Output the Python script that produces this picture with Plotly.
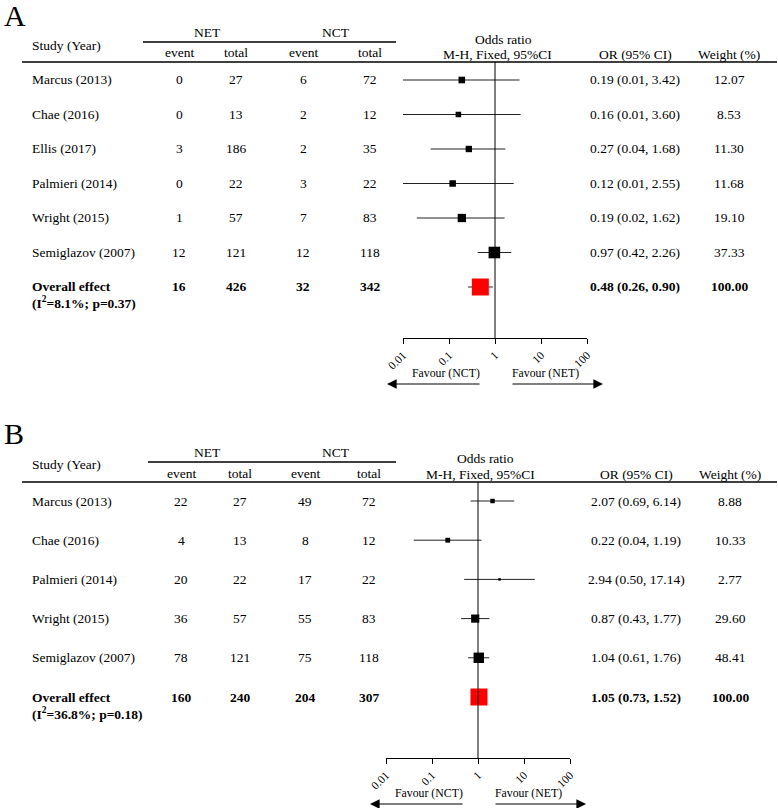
import plotly.graph_objects as go
import math

# ---------------- Data: panel A ----------------
a_studies = ["Marcus (2013)", "Chae (2016)", "Ellis (2017)", "Palmieri (2014)", "Wright (2015)", "Semiglazov (2007)"]
a_net_event = [0, 0, 3, 0, 1, 12]
a_net_total = [27, 13, 186, 22, 57, 121]
a_nct_event = [6, 2, 2, 3, 7, 12]
a_nct_total = [72, 12, 35, 22, 83, 118]
a_or = [0.19, 0.16, 0.27, 0.12, 0.19, 0.97]
a_lo = [0.01, 0.01, 0.04, 0.01, 0.02, 0.42]
a_hi = [3.42, 3.60, 1.68, 2.55, 1.62, 2.26]
a_weight = [12.07, 8.53, 11.30, 11.68, 19.10, 37.33]
a_overall_counts = [16, 426, 32, 342]
a_overall_or = [0.48, 0.26, 0.90]
a_overall_weight = 100.00
a_het = "(I<sup>2</sup>=8.1%; p=0.37)"

# ---------------- Data: panel B ----------------
b_studies = ["Marcus (2013)", "Chae (2016)", "Palmieri (2014)", "Wright (2015)", "Semiglazov (2007)"]
b_net_event = [22, 4, 20, 36, 78]
b_net_total = [27, 13, 22, 57, 121]
b_nct_event = [49, 8, 17, 55, 75]
b_nct_total = [72, 12, 22, 83, 118]
b_or = [2.07, 0.22, 2.94, 0.87, 1.04]
b_lo = [0.69, 0.04, 0.50, 0.43, 0.61]
b_hi = [6.14, 1.19, 17.14, 1.77, 1.76]
b_weight = [8.88, 10.33, 2.77, 29.60, 48.41]
b_overall_counts = [160, 240, 204, 307]
b_overall_or = [1.05, 0.73, 1.52]
b_overall_weight = 100.00
b_het = "(I<sup>2</sup>=36.8%; p=0.18)"

tick_vals = [0.01, 0.1, 1, 10, 100]
tick_text = ["0.01", "0.1", "1", "10", "100"]

W, H = 778, 808
FONT = "Liberation Serif"
FS = 13.5


def px(x):
    return x / W


def py(y):
    return 1 - y / H


fig = go.Figure()
ann = []
shapes = []


def panel(letter, studies, ne, nt, ce, ct, ors, los, his, wts, oc, oor, ow, het,
          xa, ya, x0, x1, top, bottom, row1, spacing, k, letter_y,
          col_net, col_nct, col_or, col_w, line_left):
    n = len(studies)
    rows = list(range(1, n + 2))
    xref = "x" if xa == "xaxis" else "x2"
    yref = "y" if ya == "yaxis" else "y2"
    rtop = 1 - (row1 - top) / spacing
    rbot = 1 + (bottom - row1) / spacing
    fig.layout[xa] = dict(type="log", range=[-2, 2], domain=[px(x0), px(x1)],
                          anchor=yref, showgrid=False, zeroline=False, automargin=False,
                          showline=True, linecolor="black", linewidth=1,
                          ticks="outside", ticklen=5, tickcolor="black", tickwidth=1,
                          tickvals=tick_vals, ticktext=tick_text, tickangle=-45,
                          tickfont=dict(family=FONT, size=11.5, color="black"))
    fig.layout[ya] = dict(range=[rbot, rtop], domain=[py(bottom), py(top)],
                          anchor=xref, visible=False, automargin=False)
    sizes = [k * math.sqrt(w) for w in wts]
    fig.add_trace(go.Scatter(
        x=ors, y=rows[:n], mode="markers", xaxis=xref, yaxis=yref,
        marker=dict(symbol="square", size=sizes, color="black", opacity=1, line=dict(width=0)),
        error_x=dict(type="data", symmetric=False,
                     array=[h - o for h, o in zip(his, ors)],
                     arrayminus=[o - l for o, l in zip(ors, los)],
                     color="#222", thickness=1, width=0),
        hoverinfo="skip"))
    fig.add_trace(go.Scatter(
        x=[oor[0]], y=[rows[n]], mode="markers", xaxis=xref, yaxis=yref,
        marker=dict(symbol="square", size=17, color="#ff0000", opacity=1, line=dict(width=0)),
        error_x=dict(type="data", symmetric=False, array=[oor[2] - oor[0]],
                     arrayminus=[oor[0] - oor[1]], color="#222", thickness=1, width=0),
        hoverinfo="skip"))
    shapes.append(dict(type="line", xref=xref, x0=1, x1=1, yref=yref + " domain",
                       y0=0, y1=1, line=dict(color="black", width=1)))

    def t(x, y, text, bold=False, anchor="center", size=FS, yr=yref, yshift=0):
        if bold:
            text = "<b>" + text + "</b>"
        ann.append(dict(x=x, y=y, xref="paper", yref=yr, text=text, showarrow=False,
                        xanchor=anchor, yanchor="middle", yshift=yshift,
                        font=dict(family=FONT, size=size, color="black")))

    for i in range(n):
        r = rows[i]
        t(px(30), r, studies[i], anchor="left")
        t(px(col_net[0]), r, str(ne[i]))
        t(px(col_net[1]), r, str(nt[i]))
        t(px(col_nct[0]), r, str(ce[i]))
        t(px(col_nct[1]), r, str(ct[i]))
        t(px(col_or), r, "%.2f (%.2f, %.2f)" % (ors[i], los[i], his[i]))
        t(px(col_w), r, "%.2f" % wts[i])
    r = rows[n]
    t(px(30), r, "Overall effect", bold=True, anchor="left")
    t(px(30), r, het, bold=True, anchor="left", yshift=-16)
    for c, v in zip([col_net[0], col_net[1], col_nct[0], col_nct[1]], oc):
        t(px(c), r, str(v), bold=True)
    t(px(col_or), r, "%.2f (%.2f, %.2f)" % tuple(oor), bold=True)
    t(px(col_w), r, "%.2f" % ow, bold=True)

    hp = "paper"
    t(px(2), py(letter_y), letter, anchor="left", size=30, yr=hp)
    t(px(30), py(top - 17), "Study (Year)", anchor="left", yr=hp)
    t(px(207), py(top - 30), "NET", yr=hp)
    t(px(336), py(top - 30), "NCT", yr=hp)
    t(px(col_net[0]), py(top - 9), "event", yr=hp)
    t(px(col_net[1]), py(top - 9), "total", yr=hp)
    t(px(col_nct[0]), py(top - 9), "event", yr=hp)
    t(px(col_nct[1]), py(top - 9), "total", yr=hp)
    t(px(x0 + 100), py(top - 23), "Odds ratio", yr=hp)
    t(px(x0 + 94), py(top - 8), "M-H, Fixed, 95%CI", yr=hp)
    t(px(col_or), py(top - 8), "OR (95% CI)", yr=hp)
    t(px(col_w), py(top - 8), "Weight (%)", yr=hp)
    shapes.append(dict(type="line", xref="paper", yref="paper", x0=px(line_left), x1=px(396),
                       y0=py(top - 20), y1=py(top - 20), line=dict(color="black", width=1.3)))
    shapes.append(dict(type="line", xref="paper", yref="paper", x0=px(22), x1=px(777),
                       y0=py(top), y1=py(top), line=dict(color="black", width=1.6)))

    one = (x0 + x1) / 2
    t(px(one - 49), py(bottom + 35), "Favour (NCT)", size=11.8, yr=hp)
    t(px(one + 50), py(bottom + 35), "Favour (NET)", size=11.8, yr=hp)
    ay = bottom + 46
    for tail, tip in [(one - 14, one - 108), (one + 16, one + 108)]:
        ann.append(dict(x=px(tip), y=py(ay), xref="paper", yref="paper",
                        ax=tail - tip, ay=0, axref="pixel", ayref="pixel",
                        text="", showarrow=True, arrowhead=2, arrowsize=1.6,
                        arrowwidth=1.2, arrowcolor="black", standoff=0))


panel("A", a_studies, a_net_event, a_net_total, a_nct_event, a_nct_total,
      a_or, a_lo, a_hi, a_weight, a_overall_counts, a_overall_or, a_overall_weight, a_het,
      "xaxis", "yaxis", 403, 587, 62, 338, 80, 34.5, 1.9, 15,
      (179, 236), (303, 370), 635, 729, 143)

panel("B", b_studies, b_net_event, b_net_total, b_nct_event, b_nct_total,
      b_or, b_lo, b_hi, b_weight, b_overall_counts, b_overall_or, b_overall_weight, b_het,
      "xaxis2", "yaxis2", 386, 570, 482, 758, 501, 39.2, 1.5, 433,
      (181, 240), (305, 369), 636, 730, 148)

fig.update_layout(width=W, height=H, margin=dict(l=0, r=0, t=0, b=0, pad=0, autoexpand=False),
                  paper_bgcolor="white", plot_bgcolor="white", showlegend=False,
                  annotations=ann, shapes=shapes, autosize=False)

fig.write_html("out.html", config={"displayModeBar": False},
               post_script="document.body.style.margin='0';")
